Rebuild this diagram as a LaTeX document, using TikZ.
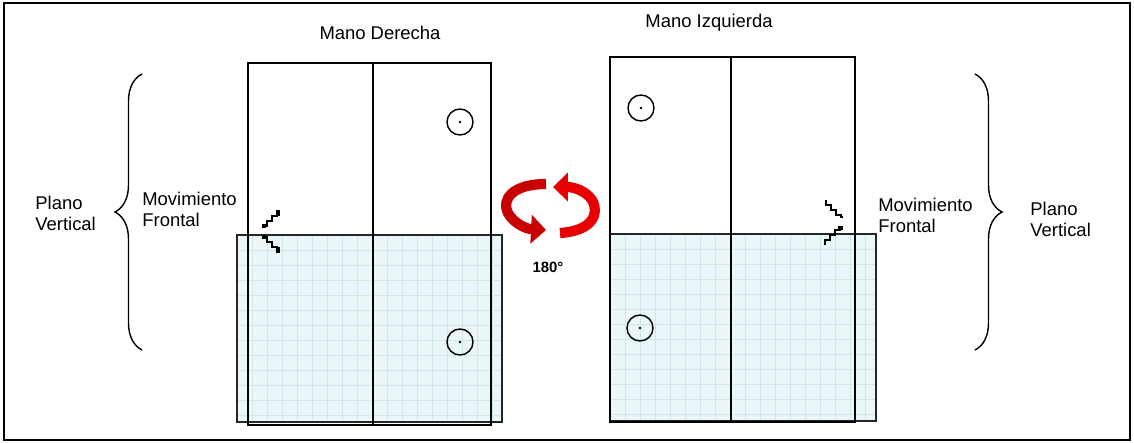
\documentclass[tikz,border=0pt]{standalone}
\usepackage{fontspec}
\setmainfont{Liberation Sans}
\usetikzlibrary{decorations.pathreplacing,arrows.meta}
\definecolor{planefill}{HTML}{EBF6F8}
\definecolor{gridc}{HTML}{CFE6EB}
\definecolor{arrowdark}{HTML}{C80000}
\definecolor{arrowlight}{HTML}{E80000}
\begin{document}
\begin{tikzpicture}[x=0.02cm,y=-0.02cm,
  lbl/.style={font=\fontsize{10.5}{12}\selectfont, align=left, inner sep=0pt},
  ttl/.style={font=\fontsize{10.5}{12}\selectfont, inner sep=0pt},
  box/.style={line width=1.6pt},
  midline/.style={line width=1.1pt},
  plane/.style={fill=planefill, draw=none},
  planeborder/.style={draw=black!85, line width=0.8pt},
  gridline/.style={draw=gridc, line width=0.35pt},
  circ/.style={line width=0.8pt},
  stair/.style={line width=0.9pt, line join=miter},
  bracestyle/.style={decorate, decoration={brace, amplitude=0.54cm}, line width=0.8pt},
  rotarrow/.style={line width=5.8pt, -{Triangle[width=16pt,length=8.5pt]}},
  frame/.style={line width=1.2pt}]
\useasboundingbox (0,0) rectangle (1134,443);
\draw[frame] (4,3) rectangle (1130,440);

% ---------- left (Mano Derecha) ----------
\fill[plane] (237,235) rectangle (502,422);
\foreach \k in {1,...,17} \draw[gridline] ({237+15*\k},235) -- ({237+15*\k},422);
\foreach \k in {1,...,12} \draw[gridline] (237,{235+15*\k}) -- (502,{235+15*\k});
\draw[planeborder] (237,235) rectangle (502,422);
\draw[box] (248,63) rectangle (491,425);
\draw[midline] (373,63) -- (373,425);
\draw[circ] (460,122) circle[radius=13];
\fill (460,122) circle[radius=1.3];
\draw[circ] (460,342) circle[radius=13];
\fill (460,342) circle[radius=1.3];
\draw[stair] (262,226) -- ++(5,0) -- ++(0,-5) -- ++(5,0) -- ++(0,-5) -- ++(5,0) -- ++(0,-5) -- ++(2,0) -- ++(0,5);
\draw[line width=1.8pt] (262,226) -- (266,226);
\draw[stair] (262,237) -- ++(5,0) -- ++(0,5) -- ++(5,0) -- ++(0,5) -- ++(5,0) -- ++(0,5) -- ++(2,0) -- ++(0,-5);
\draw[line width=1.8pt] (262,237) -- (266,237);

% ---------- right (Mano Izquierda) ----------
\fill[plane] (610,234) rectangle (876,421);
\foreach \k in {1,...,17} \draw[gridline] ({610+15*\k},234) -- ({610+15*\k},421);
\foreach \k in {1,...,12} \draw[gridline] (610,{234+15*\k}) -- (876,{234+15*\k});
\draw[planeborder] (610,234) rectangle (876,421);
\draw[box] (610,57) rectangle (855,422);
\draw[midline] (731,57) -- (731,422);
\draw[circ] (641,108) circle[radius=13];
\fill (641,108) circle[radius=1.3];
\draw[circ] (640,328) circle[radius=13];
\fill (640,328) circle[radius=1.3];
\draw[stair] (826,200) -- ++(0,5) -- ++(5,0) -- ++(0,5) -- ++(5,0) -- ++(0,5) -- ++(5,0) -- ++(0,2) -- ++(2,0);
\draw[stair] (825,245) -- ++(0,-5) -- ++(5,0) -- ++(0,-5) -- ++(5,0) -- ++(0,-5) -- ++(5,0) -- ++(0,-2) -- ++(3,0);
\draw[line width=1.8pt] (838,228) -- (843,228);

% ---------- rotation arrows ----------
\draw[rotarrow, arrowdark] (546,184) .. controls (513,184) and (501,199) .. (508,213) .. controls (514,224) and (527,229) .. (546,230);
\draw[rotarrow, arrowlight] (560,233) .. controls (592,231) and (600,214) .. (592,200) .. controls (586,191) and (574,187) .. (553,187);
\node[font=\bfseries\fontsize{8.5}{10}\selectfont] (deg) at (548,267) {180°};

% ---------- titles ----------
\node[ttl] (tder) at (380,33) {Mano Derecha};
\node[ttl] (tizq) at (709,23) {Mano Izquierda};

% ---------- braces and labels ----------
\draw[bracestyle] (142,350) -- (142,74);
\draw[bracestyle] (975,74) -- (975,350);
\node[lbl, anchor=west] (pvl) at (35,213) {Plano\\Vertical};
\node[lbl, anchor=west] (mfl) at (142,209) {Movimiento\\Frontal};
\node[lbl, anchor=west] (mfr) at (878,215) {Movimiento\\Frontal};
\node[lbl, anchor=west] (pvr) at (1030,219) {Plano\\Vertical};
\end{tikzpicture}
\end{document}
